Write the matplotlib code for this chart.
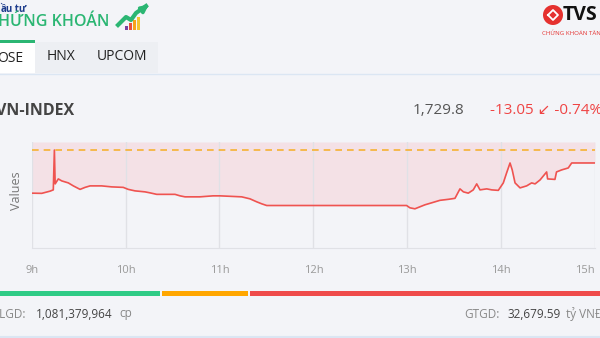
import numpy as np
import matplotlib.pyplot as plt
from matplotlib.patches import Rectangle, Circle

# =============================================================================
# Data (minutes after 9:00, index value)
# =============================================================================
minutes = [0, 6.4, 11.7, 13.8, 14.5, 15.0, 17.0, 19.2, 23.4, 26.6, 30.9, 34.1,
           37.3, 44.7, 51.1, 58.5, 61.7, 66.0, 72.4, 75.6, 79.9, 91.6, 94.8,
           98.0, 107.5, 115.9, 120.3, 134.2, 139.5, 143.8, 147.0, 150.2,
           239.6, 241.7, 244.9, 251.3, 255.6, 260.9, 266.2, 270.5, 273.7,
           275.9, 279.0, 282.2, 284.4, 286.5, 290.8, 294.0, 298.2, 301.4,
           303.5, 305.7, 307.1, 308.9, 312.1, 316.3, 319.5, 321.7, 324.9,
           329.1, 329.7, 334.4, 335.4, 338.6, 342.9, 345.1, 360]
values = [1699.5, 1699.3, 1701.5, 1702.8, 1742.8, 1708.8, 1713.8, 1711.8,
          1709.8, 1706.8, 1703.3, 1705.3, 1706.8, 1706.8, 1705.8, 1705.3,
          1703.3, 1701.8, 1700.8, 1699.8, 1698.3, 1698.3, 1696.8, 1695.8,
          1695.8, 1696.8, 1696.8, 1695.8, 1693.8, 1690.8, 1688.8, 1687.1,
          1687.1, 1684.8, 1683.8, 1687.8, 1689.8, 1692.3, 1693.3, 1694.3,
          1703.8, 1700.8, 1699.5, 1702.8, 1708.8, 1702.8, 1703.8, 1702.8,
          1702.3, 1709.8, 1719.8, 1729.8, 1722.8, 1709.8, 1704.8, 1706.8,
          1709.8, 1708.8, 1712.8, 1720.8, 1713.8, 1713.3, 1720.8, 1722.8,
          1724.8, 1729.8, 1729.8]
ref_value = 1742.85
hour_ticks = [9, 10, 11, 12, 13, 14, 15]
hour_labels = ['9h', '10h', '11h', '12h', '13h', '14h', '15h']

hours = 9 + np.array(minutes) / 60.0

# =============================================================================
# Figure
# =============================================================================
plt.rcParams['font.family'] = ['Open Sans', 'DejaVu Sans']
W, H = 600, 338
fig = plt.figure(figsize=(W / 100, H / 100), dpi=100)
fig.patch.set_facecolor('#f3f4f8')

# background axes in pixel coords (y down)
bg = fig.add_axes([0, 0, 1, 1])
bg.set_xlim(0, W)
bg.set_ylim(H, 0)
bg.axis('off')

# logo left
bg.text(0, 9, 'ầu tư', fontsize=7, color='#1d3c8c', fontweight='bold', va='center')
bg.text(-2, 22.5, 'HỨNG KHOÁN', fontsize=11.5, color='#2bb673', va='center',
        fontweight='semibold')
for i, c in enumerate(['#7b3fa0', '#e94e3c', '#f7a21b', '#f4c430']):
    hgt = 4 + i * 3
    bg.add_patch(Rectangle((125 + i * 4, 30 - hgt), 2.6, hgt, color=c, lw=0))
bg.plot([118, 126, 131, 136, 146], [25, 17, 20, 13, 6], color='#2bb673', lw=3)
bg.annotate('', xy=(151, 3), xytext=(143, 9),
            arrowprops=dict(arrowstyle='-|>', color='#2bb673', lw=2.5, mutation_scale=10))

# logo right
bg.add_patch(Circle((553, 15), 10, color='#e5312f', lw=0))
bg.plot([548, 553, 558, 553, 548], [15, 10, 15, 20, 15], color='white', lw=1.3)
bg.text(563, 15, 'TVS', fontsize=14, fontweight='bold', color='#111111', va='center')
bg.text(542, 33.5, 'CHỨNG KHOÁN TÂN', fontsize=4.4, color='#e5312f', va='center')

# tabs
bg.add_patch(Rectangle((35, 42), 123, 31, color='#edeff3', lw=0))
bg.add_patch(Rectangle((0, 42), 35, 31, color='white', lw=0))
bg.add_patch(Rectangle((0, 40), 35, 3, color='#2bb673', lw=0))
bg.text(-3, 58, 'OSE', fontsize=10, color='#222222', va='center')
bg.text(47, 56, 'HNX', fontsize=10, color='#222222', va='center')
bg.text(97, 56, 'UPCOM', fontsize=10, color='#222222', va='center')
bg.plot([0, W], [73.5, 73.5], color='#dbe6f3', lw=1)

# header
bg.text(-4, 111, 'VN-INDEX', fontsize=11.5, fontweight='bold', color='#444444', va='center')
bg.text(413, 111, '1,729.8', fontsize=11, color='#555555', va='center')
bg.text(490, 111, '-13.05 ↙ -0.74%', fontsize=11, color='#ef4444', va='center')

# ylabel
bg.text(16, 191, 'Values', fontsize=9, color='#777777', rotation=90, ha='center', va='center')

# status bar
bg.add_patch(Rectangle((0, 291), 160, 4.5, color='#2fcb86', lw=0))
bg.add_patch(Rectangle((162, 291), 86, 4.5, color='#ffa600', lw=0))
bg.add_patch(Rectangle((250, 291), 350, 4.5, color='#ef4b4b', lw=0))

# totals row
bg.text(-7, 314, 'KLGD:', fontsize=8.5, color='#888888', va='center')
bg.text(36, 314, '1,081,379,964', fontsize=8.5, color='#444444', va='center')
bg.text(119, 314, 'cp', fontsize=8.5, color='#888888', va='center')
bg.text(464, 314, 'GTGD:', fontsize=8.5, color='#888888', va='center')
bg.text(507, 314, '32,679.59', fontsize=8.5, color='#444444', va='center')
bg.text(566, 314, 'tỷ VNĐ', fontsize=8.5, color='#888888', va='center')
bg.plot([0, W], [337, 337], color='#dbe6f3', lw=1.5)

# =============================================================================
# Chart
# =============================================================================
x0, x1, y_top, y_bot = 31.7, 595, 142, 248
ax = fig.add_axes([x0 / W, 1 - y_bot / H, (x1 - x0) / W, (y_bot - y_top) / H])
ax.set_facecolor('none')
ymax = ref_value + 8
ymin = ref_value - 98.4
ax.set_xlim(9, 15)
ax.set_ylim(ymin, ymax)

ax.fill_between(hours, values, ymax, color='#f4e1e6', lw=0, zorder=1)
for h in hour_ticks:
    ax.axvline(h, color='#e0e1e6', lw=1, zorder=2)
ax.plot(hours, values, color='#ef5350', lw=1.2, zorder=3)
ax.axhline(ref_value, color='#f6b133', lw=1.2, ls=(0, (4, 3)), zorder=3)

for s in ['top', 'right', 'left']:
    ax.spines[s].set_visible(False)
ax.spines['bottom'].set_color('#e0e1e6')

ax.set_yticks([])
ax.set_xticks(hour_ticks)
ax.set_xticklabels(hour_labels, fontsize=8, color='#999999')
ax.tick_params(axis='x', length=0, pad=12)
ax.get_xticklabels()[-1].set_ha('right')

fig.savefig('out.png', dpi=100, facecolor=fig.get_facecolor())
